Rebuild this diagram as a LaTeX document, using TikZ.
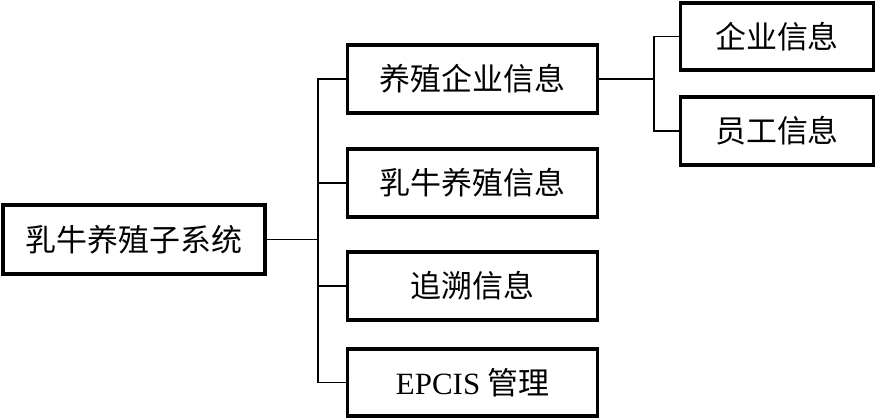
\documentclass[tikz,border=0pt]{standalone}
\usepackage{fontspec}
\setmainfont{Liberation Serif}
\newfontfamily\cjk{Noto Sans CJK SC}

\begin{document}
\begin{tikzpicture}[x=0.025cm,y=-0.025cm,-,auto,line width=1.4pt,info node/.style={draw,line width=2.6pt,rectangle,inner sep=0pt,font=\cjk\fontsize{22}{26}\selectfont}]

            \useasboundingbox (0,0) rectangle (877,418);

            \node[info node, minimum width=6.55cm, minimum height=1.725cm] (root) at (134,239.5) {乳牛养殖子系统};

            \node[info node, minimum width=6.25cm, minimum height=1.7cm] (m1) at (472.5,79) {养殖企业信息};
            \node[info node, minimum width=6.25cm, minimum height=1.7cm] (m2) at (472.5,183) {乳牛养殖信息};
            \node[info node, minimum width=6.25cm, minimum height=1.7cm] (m3) at (472.5,286) {追溯信息};
            \node[info node, minimum width=6.25cm, minimum height=1.675cm] (m4) at (472.5,382.5) {{\rmfamily EPCIS} 管理};

            \node[info node, minimum width=4.825cm, minimum height=1.675cm] (r1) at (777,36.5) {企业信息};
            \node[info node, minimum width=4.825cm, minimum height=1.7cm] (r2) at (777,131) {员工信息};

            \coordinate (j1) at (318,239.5);
            \coordinate (j2) at (654,79);

            \draw[-] (root) to (j1);
            \draw[-] (j1) |- (m1);
            \draw[-] (j1) |- (m2);
            \draw[-] (j1) |- (m3);
            \draw[-] (j1) |- (m4);

            \draw[-] (m1) to (j2);
            \draw[-] (j2) |- (r1);
            \draw[-] (j2) |- (r2);

        \end{tikzpicture}
\end{document}
